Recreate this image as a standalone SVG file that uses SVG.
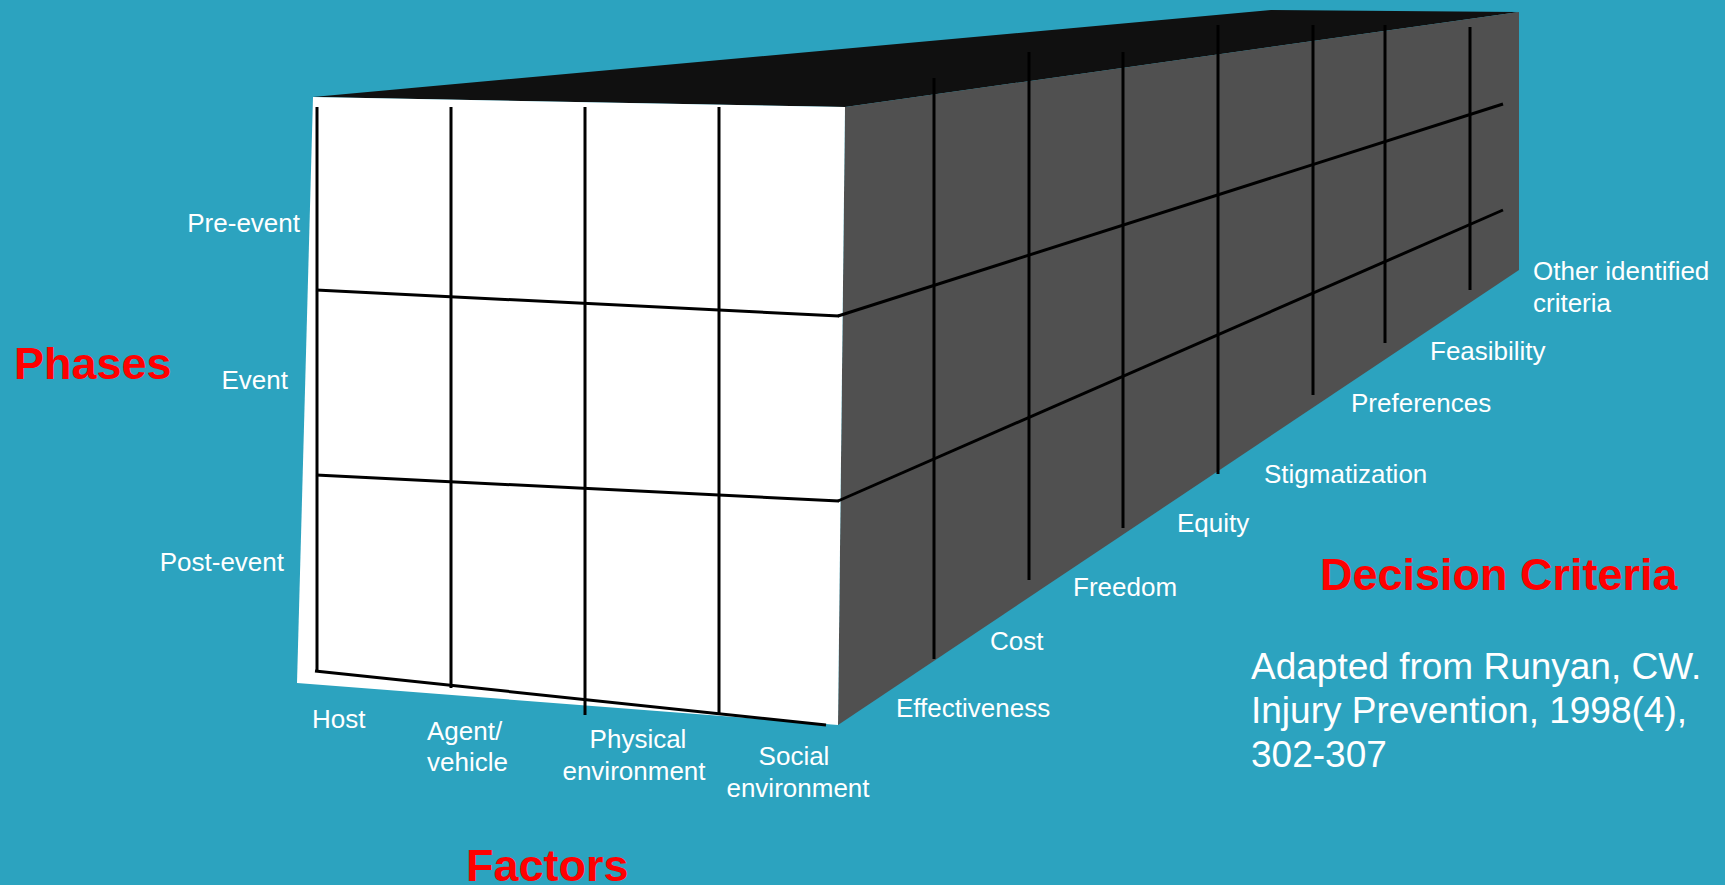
<svg xmlns="http://www.w3.org/2000/svg" width="1725" height="885" viewBox="0 0 1725 885">
  <style>
    .lbl { font-family: "Liberation Sans", Arial, sans-serif; font-size: 26px; fill: #ffffff; }
    .head { font-family: "Liberation Sans", Arial, sans-serif; font-size: 45px; font-weight: bold; fill: #ff0000; }
    .cite { font-family: "Liberation Sans", Arial, sans-serif; font-size: 37px; fill: #ffffff; }
    .grid line { stroke: #000000; stroke-width: 3; stroke-linecap: butt; }
  </style>

  <!-- background -->
  <rect x="0" y="0" width="1725" height="885" fill="#2ca3bf"/>

  <!-- box faces -->
  <g id="top-face">
    <polygon points="313,97 1271,10 1519,12 845,107" fill="#101010"/>
  </g>
  <g id="side-face">
    <polygon points="845,107 1519,12 1519,270 838,725" fill="#505050"/>
  </g>
  <g id="front-face">
    <polygon points="313,97 845,107 838,725 297,683" fill="#ffffff"/>
  </g>

  <!-- grid lines on the front and side faces -->
  <g id="connectors" class="grid">
    <!-- front face: factor columns -->
    <line x1="317" y1="107" x2="317" y2="671"/>
    <line x1="451" y1="107" x2="451" y2="688"/>
    <line x1="585" y1="107" x2="585" y2="715"/>
    <line x1="719" y1="107" x2="719" y2="714"/>
    <!-- front face: phase rows -->
    <line x1="316" y1="290" x2="839" y2="316"/>
    <line x1="316" y1="475" x2="839" y2="501"/>
    <line x1="315" y1="671" x2="826" y2="725"/>
    <!-- side face: phase rows continued -->
    <line x1="838" y1="316" x2="1503" y2="104"/>
    <line x1="838" y1="501" x2="1503" y2="210"/>
    <!-- side face: criteria columns -->
    <line x1="934" y1="78" x2="934" y2="659"/>
    <line x1="1029" y1="52" x2="1029" y2="580"/>
    <line x1="1123" y1="52" x2="1123" y2="528"/>
    <line x1="1218" y1="25" x2="1218" y2="474"/>
    <line x1="1313" y1="25" x2="1313" y2="395"/>
    <line x1="1385" y1="25" x2="1385" y2="343"/>
    <line x1="1470" y1="27" x2="1470" y2="290"/>
  </g>

  <!-- phase labels -->
  <g id="phases">
    <text class="head" x="14" y="379">Phases</text>
    <text class="lbl" x="300" y="232" text-anchor="end">Pre-event</text>
    <text class="lbl" x="288" y="389" text-anchor="end">Event</text>
    <text class="lbl" x="284" y="571" text-anchor="end">Post-event</text>
  </g>

  <!-- factor labels -->
  <g id="factors">
    <text class="lbl" x="312" y="728">Host</text>
    <text class="lbl" x="427" y="740">Agent/</text>
    <text class="lbl" x="427" y="771">vehicle</text>
    <text class="lbl" x="638" y="748" text-anchor="middle">Physical</text>
    <text class="lbl" x="634" y="780" text-anchor="middle">environment</text>
    <text class="lbl" x="794" y="765" text-anchor="middle">Social</text>
    <text class="lbl" x="798" y="797" text-anchor="middle">environment</text>
    <text class="head" x="466" y="881">Factors</text>
  </g>

  <!-- decision criteria labels -->
  <g id="criteria">
    <text class="lbl" x="896" y="717">Effectiveness</text>
    <text class="lbl" x="990" y="650">Cost</text>
    <text class="lbl" x="1073" y="596">Freedom</text>
    <text class="lbl" x="1177" y="532">Equity</text>
    <text class="lbl" x="1264" y="483">Stigmatization</text>
    <text class="lbl" x="1351" y="412">Preferences</text>
    <text class="lbl" x="1430" y="360">Feasibility</text>
    <text class="lbl" x="1533" y="280">Other identified</text>
    <text class="lbl" x="1533" y="312">criteria</text>
    <text class="head" x="1320" y="590">Decision Criteria</text>
  </g>

  <!-- source note -->
  <g id="citation">
    <text class="cite" x="1251" y="679">Adapted from Runyan, CW.</text>
    <text class="cite" x="1251" y="723">Injury Prevention, 1998(4),</text>
    <text class="cite" x="1251" y="767">302-307</text>
  </g>
</svg>
